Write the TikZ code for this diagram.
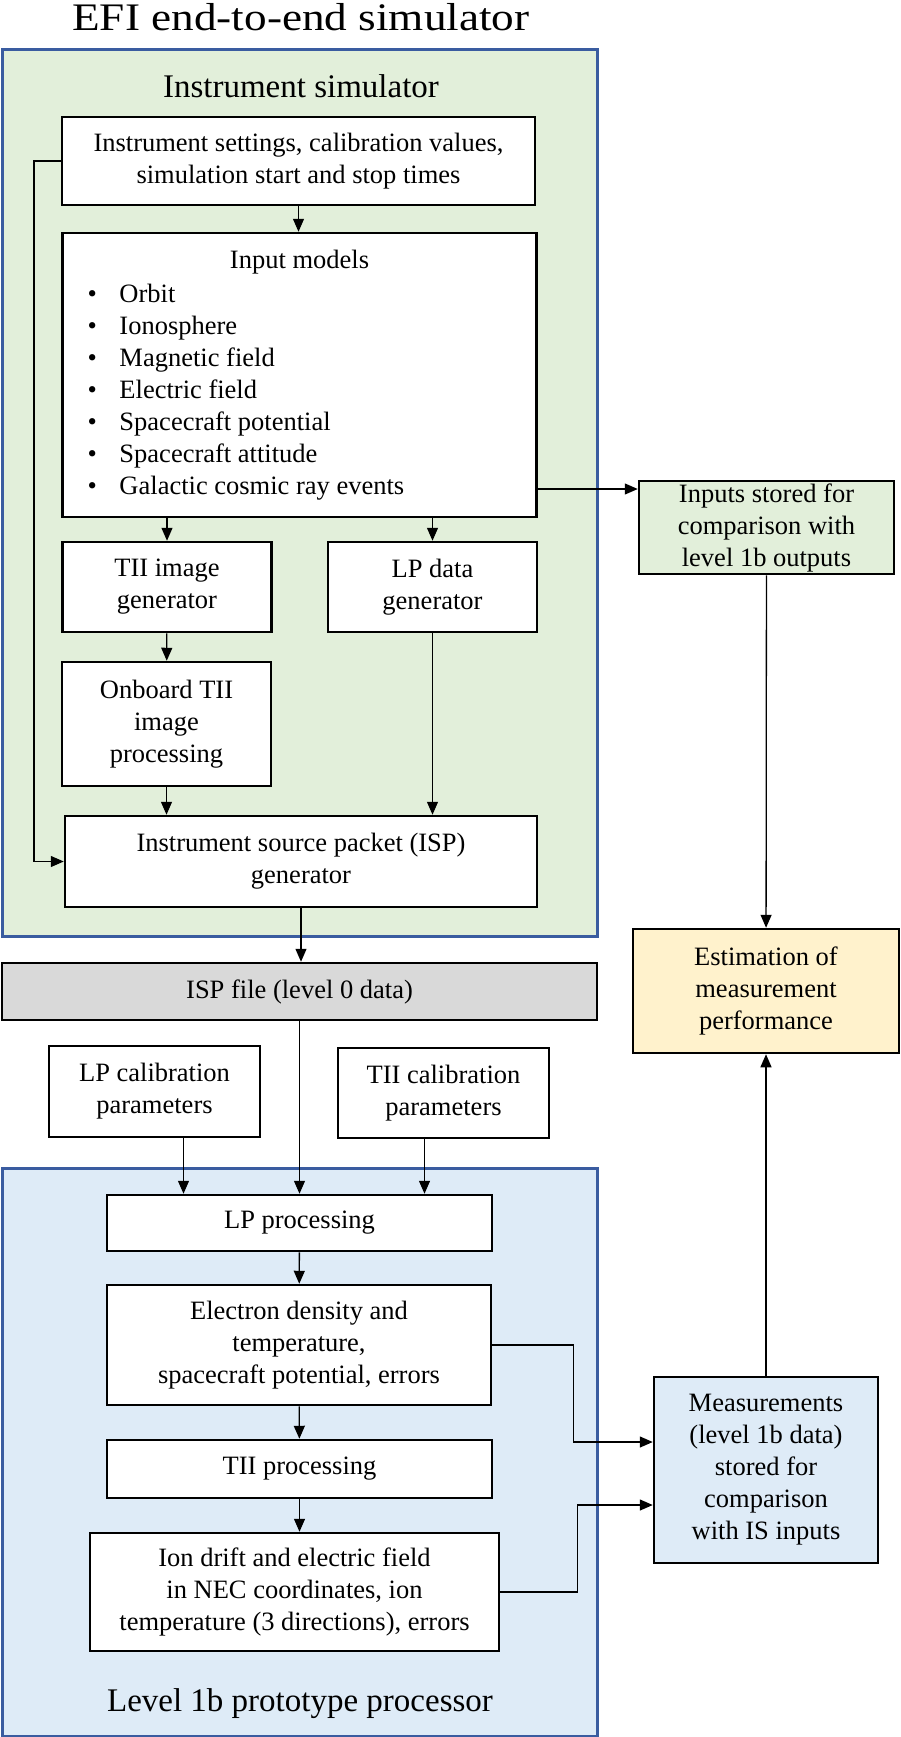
\documentclass[tikz,border=0pt]{standalone}
\usepackage{fontspec}
\setmainfont{Liberation Serif}
\newfontfamily\titlefont[FakeStretch=1.16]{Liberation Serif}
\usetikzlibrary{positioning, arrows.meta}
\definecolor{simgreen}{HTML}{E2EFDA}
\definecolor{procblue}{HTML}{DEEBF7}
\definecolor{estyellow}{HTML}{FFF2CC}
\definecolor{filegray}{HTML}{D9D9D9}
\definecolor{frameblue}{HTML}{3A5CA0}
\newcommand{\modelitem}[1]{\makebox[474pt][l]{\hspace*{25pt}\makebox[32pt][l]{\textbullet}#1}}

\begin{document}
\begin{tikzpicture}[x=1pt,y=-1pt,->,>={Triangle[length=13pt,width=11pt]},line width=1.3pt,
    box node/.style={draw,line width=2.5pt,fill=white,inner sep=0pt,align=center,font=\fontsize{26.5}{32}\selectfont},
    group frame/.style={draw=frameblue,line width=3pt},
    head node/.style={anchor=base,font=\fontsize{33}{38}\selectfont}]
\useasboundingbox (0,0) rectangle (901,1737);

% group frames
\path[-,group frame,fill=simgreen] (2,50) rectangle (597,936);
\path[-,group frame,fill=procblue] (2,1168) rectangle (597,1736);

\node[anchor=base,inner sep=0pt,font=\titlefont\fontsize{39}{44}\selectfont] (title) at (301,31) {EFI end-to-end simulator};
\node[head node] (simhead) at (301,97) {Instrument simulator};
\node[head node] (prochead) at (300,1711) {Level 1b prototype processor};

% instrument simulator
\node[box node,minimum width=473pt,minimum height=88pt] (settings) at (298.5,161)
    {Instrument settings, calibration values,\\simulation start and stop times};
\node[box node,minimum width=474pt,minimum height=284pt] (models) at (299.5,375)
    {Input models\\[2pt]
     \modelitem{Orbit}\\ \modelitem{Ionosphere}\\ \modelitem{Magnetic field}\\
     \modelitem{Electric field}\\ \modelitem{Spacecraft potential}\\
     \modelitem{Spacecraft attitude}\\ \modelitem{Galactic cosmic ray events}};
\node[box node,minimum width=209pt,minimum height=90pt] (tiigen) at (167,587) {TII image\\generator};
\node[box node,minimum width=209pt,minimum height=90pt] (lpgen) at (432.5,587) {LP data\\generator};
\node[box node,minimum width=209pt,minimum height=124pt] (onboard) at (166.5,724) {Onboard TII\\image\\processing};
\node[box node,minimum width=472pt,minimum height=91pt] (ispgen) at (301,861.5) {Instrument source packet (ISP)\\generator};
\coordinate (bus) at (34,0);

% level 0 and calibration
\node[box node,fill=filegray,minimum width=595pt,minimum height=57pt] (ispfile) at (299.5,991.5) {ISP file (level 0 data)};
\node[box node,minimum width=211pt,minimum height=91pt] (lpcal) at (154.5,1091.5) {LP calibration\\parameters};
\node[box node,minimum width=211pt,minimum height=90pt] (tiical) at (443.5,1093) {TII calibration\\parameters};

% level 1b processor
\node[box node,minimum width=385pt,minimum height=56pt] (lpproc) at (299.5,1223) {LP processing};
\node[box node,minimum width=384pt,minimum height=120pt] (elec) at (299,1345)
    {Electron density and\\temperature,\\spacecraft potential, errors};
\node[box node,minimum width=385pt,minimum height=58pt] (tiiproc) at (299.5,1469) {TII processing};
\node[box node,minimum width=409pt,minimum height=118pt] (ion) at (294.5,1592)
    {Ion drift and electric field\\in NEC coordinates, ion\\temperature (3 directions), errors};

% comparison
\node[box node,fill=simgreen,minimum width=255pt,minimum height=93pt] (inputs) at (766.5,527.5)
    {Inputs stored for\\comparison with\\level 1b outputs};
\node[box node,fill=estyellow,minimum width=266pt,minimum height=124pt] (estim) at (766,991)
    {Estimation of\\measurement\\performance};
\node[box node,fill=procblue,minimum width=224pt,minimum height=186pt] (meas) at (766,1470)
    {Measurements\\(level 1b data)\\stored for\\comparison\\with IS inputs};

\draw (settings.south) -- (settings.south |- models.north);
\draw (models.south -| tiigen) -- (tiigen.north);
\draw (models.south -| lpgen) -- (lpgen.north);
\draw (tiigen) -- (onboard);
\draw (onboard.south) -- (onboard.south |- ispgen.north);
\draw (lpgen.south) -- (lpgen.south |- ispgen.north);
\draw (settings.west) -- (settings.west -| bus) |- (ispgen.west);
\draw (ispgen.south) -- (ispgen.south |- ispfile.north);
\draw (ispfile.south) -- (ispfile.south |- lpproc.north);
\draw ([xshift=29pt]lpcal.south) -- ([xshift=29pt]lpcal.south |- lpproc.north);
\draw ([xshift=-19pt]tiical.south) -- ([xshift=-19pt]tiical.south |- lpproc.north);
\draw (lpproc) -- (elec);
\draw (elec) -- (tiiproc);
\draw (tiiproc) -- (ion.north -| tiiproc);
\draw ([yshift=-114pt]models.east) -- ([yshift=-114pt]models.east -| inputs.west);
\draw (inputs) -- (estim);
\draw (meas) -- (estim);
\draw (elec.east) -- ++(81,0) |- ([yshift=28pt]meas.west);
\draw (ion.east) -- ++(77,0) |- ([yshift=-35pt]meas.west);
\end{tikzpicture}
\end{document}
